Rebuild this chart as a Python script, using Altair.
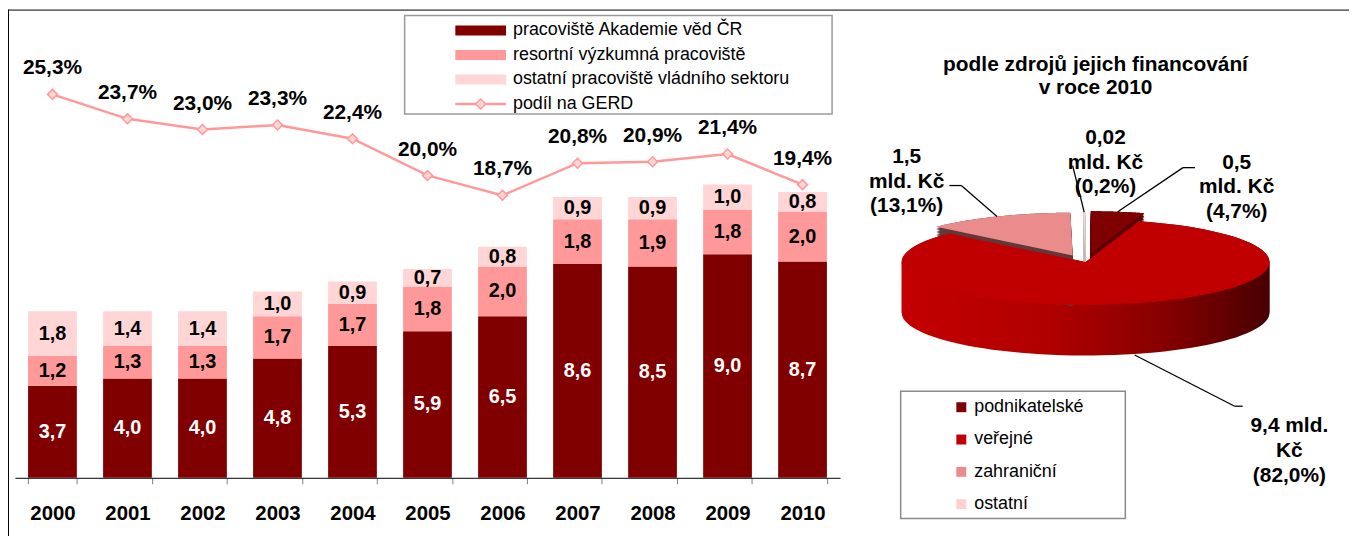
import altair as alt
import pandas as pd

# ---------------- data ----------------
years = ["2000", "2001", "2002", "2003", "2004", "2005", "2006", "2007", "2008", "2009", "2010"]
series_names = ["pracoviště Akademie věd ČR", "resortní výzkumná pracoviště",
                "ostatní pracoviště vládního sektoru"]
avcr = [3.7, 4.0, 4.0, 4.8, 5.3, 5.9, 6.5, 8.6, 8.5, 9.0, 8.7]
resortni = [1.2, 1.3, 1.3, 1.7, 1.7, 1.8, 2.0, 1.8, 1.9, 1.8, 2.0]
ostatni = [1.8, 1.4, 1.4, 1.0, 0.9, 0.7, 0.8, 0.9, 0.9, 1.0, 0.8]
line_name = "podíl na GERD"
gerd_share = [25.3, 23.7, 23.0, 23.3, 22.4, 20.0, 18.7, 20.8, 20.9, 21.4, 19.4]

pie_title_lines = ["podle zdrojů jejich financování", "v roce 2010"]
pie_sources = ["podnikatelské", "veřejné", "zahraniční", "ostatní"]
pie_values = [0.5, 9.4, 1.5, 0.02]
pie_pct = [4.7, 82.0, 13.1, 0.2]

# ---------------- styles / layout ----------------
FONT = "Liberation Sans"
W, H = 1349, 471
bar_colors = ["#800000", "#ff9999", "#ffd5d5"]
line_color = "#ff9999"
marker_fill = "#ffd5d5"
pie_colors = ["#7f0000", "#c00000", "#ea8c8c", "#ffd0d0"]
side_fills = ["#560000", None, "#603a3a", "#bdbdbd"]
pie_explode = [0.19, 0.0, 0.17, 0.17]
pie_lab_x = [1236, 1289, 904, 1104]
pie_lab_y = [154, 419, 148, 129]
pie_elb_x = [1182, 1234, 959, 1071]
pie_elb_y = [159, 399, 177, 157]
pie_stub_x = [1194, 1242, 947, 1071]
pie_stub_y = [159, 399, 177, 157]
CX, CY, RX, RY, DEPTH, N = 1084, 254, 185, 43, 52, 90

# ---------------- tables ----------------
rows = []
for s_i, (name, vals) in enumerate(zip(series_names, [avcr, resortni, ostatni])):
    for y, v in zip(years, vals):
        rows.append({"year": y, "series": name, "v": v, "ord": s_i})
bars_df = pd.DataFrame(rows)
line_df = pd.DataFrame({"year": years, "share": gerd_share})
legend_entries = series_names + [line_name]
leg_df = pd.DataFrame({"entry": legend_entries, "ord": list(range(len(legend_entries)))})
pie_df = pd.DataFrame({
    "src": pie_sources, "val": pie_values, "pct": pie_pct, "ord": list(range(4)),
    "expl": pie_explode, "lab_x": pie_lab_x, "lab_y": pie_lab_y,
    "elb_x": pie_elb_x, "elb_y": pie_elb_y, "stub_x": pie_stub_x, "stub_y": pie_stub_y,
})
one = alt.Data(values=[{}])

# ---------------- bar chart ----------------
x_axis = alt.Axis(title=None, labelAngle=0, labelFont=FONT, labelFontSize=20.5, labelFontWeight="bold",
                  labelColor="black", domainColor="black", domainWidth=1, tickColor="#7f7f7f",
                  tickSize=6, tickWidth=1, tickBand="extent", labelPadding=20, grid=False)
xb = alt.X("year:N", sort=years,
           scale=alt.Scale(type="band", domain=years, range=[7, 837], paddingInner=0.35, paddingOuter=0.175),
           axis=x_axis)
ybar_scale = alt.Scale(domain=[0, H / 25.0], nice=False, zero=False)

bar_base = (alt.Chart(bars_df)
            .transform_stack(stack="v", groupby=["year"], as_=["y0", "y1"],
                             sort=[alt.SortField("ord", order="ascending")])
            .transform_calculate(mid="(datum.y0 + datum.y1) / 2",
                                 lab="replace(format(datum.v, '.1f'), '.', ',')"))
bars = bar_base.mark_bar().encode(
    x=xb,
    y=alt.Y("y0:Q", scale=ybar_scale, axis=None),
    y2="y1:Q",
    color=alt.Color("series:N", scale=alt.Scale(domain=series_names, range=bar_colors), legend=None),
)
bar_text = bar_base.mark_text(font=FONT, fontSize=20, fontWeight="bold", baseline="middle").encode(
    x=xb,
    y=alt.Y("mid:Q", scale=ybar_scale, axis=None),
    text="lab:N",
    color=alt.condition("datum.ord == 0", alt.value("white"), alt.value("black")),
)

yline = alt.Y("share:Q", scale=alt.Scale(domain=[0.24, 30.84], nice=False, zero=False), axis=None)
line_base = alt.Chart(line_df).transform_calculate(
    lab="replace(format(datum.share, '.1f'), '.', ',') + '%'")
gline = line_base.mark_line(color=line_color, strokeWidth=2.5).encode(x=xb, y=yline)
gpts = line_base.mark_point(shape="diamond", filled=True, fill=marker_fill, stroke=line_color,
                            strokeWidth=1.5, size=100, opacity=1).encode(x=xb, y=yline)
gtext = line_base.mark_text(font=FONT, fontSize=21, fontWeight="bold", dy=-26, color="black").encode(
    x=xb, y=yline, text="lab:N")

bar_group = alt.layer(alt.layer(bars, bar_text), alt.layer(gline, gpts, gtext)).resolve_scale(y="independent")

# ---------------- bar legend (manual) ----------------
ly = alt.Y("entry:N", sort=legend_entries,
           scale=alt.Scale(type="point", domain=legend_entries, range=[21, 95], padding=0), axis=None)
leg_box = alt.Chart(one).mark_rect(fill="white", stroke="#9a9a9a", strokeWidth=1.5).encode(
    x=alt.value(399), x2=alt.value(829), y=alt.value(6), y2=alt.value(105))
leg_sw = alt.Chart(leg_df).transform_filter("datum.ord < 3").mark_rule(strokeWidth=10, strokeCap="butt").encode(
    x=alt.value(450), x2=alt.value(501), y=ly,
    color=alt.Color("entry:N", scale=alt.Scale(domain=series_names, range=bar_colors), legend=None))
leg_ln = alt.Chart(leg_df).transform_filter("datum.ord == 3").mark_rule(color=line_color, strokeWidth=2.5).encode(
    x=alt.value(450), x2=alt.value(501), y=ly)
leg_pt = alt.Chart(leg_df).transform_filter("datum.ord == 3").mark_point(
    shape="diamond", filled=True, fill=marker_fill, stroke=line_color, strokeWidth=1.5, size=100, opacity=1).encode(
    x=alt.value(475.5), y=ly)
leg_txt = alt.Chart(leg_df).mark_text(align="left", baseline="middle", font=FONT, fontSize=18, color="black").encode(
    x=alt.value(508), y=ly, text="entry:N")
leg_group = alt.layer(leg_sw, leg_ln, leg_pt, leg_txt)

# ---------------- pie ----------------
def px_enc(f):
    return alt.X(f"{f}:Q", scale=alt.Scale(domain=[0, W], range=[0, W], nice=False, zero=False), axis=None)


def py_enc(f):
    return alt.Y(f"{f}:Q", scale=alt.Scale(domain=[0, H], range=[0, H], nice=False, zero=False), axis=None)


pie_geo = (alt.Chart(pie_df)
           .transform_joinaggregate(tot="sum(pct)")
           .transform_window(cum="sum(pct)", sort=[alt.SortField("ord", order="ascending")], frame=[None, 0])
           .transform_calculate(a0="2*PI*(datum.cum - datum.pct)/datum.tot")
           .transform_calculate(a1="2*PI*datum.cum/datum.tot")
           .transform_calculate(am="(datum.a0 + datum.a1)/2"))

slices = (pie_geo
          .transform_calculate(k=f"sequence(0, {N + 3})")
          .transform_flatten(["k"])
          .transform_calculate(t=f"clamp((datum.k - 1)/{N}, 0, 1)")
          .transform_calculate(a="datum.a0 + datum.t*(datum.a1 - datum.a0)")
          .transform_calculate(c=f"(datum.k == 0 || datum.k == {N + 2}) ? 0 : 1")
          .transform_calculate(px=f"{CX} + {RX}*(datum.expl*sin(datum.am) + datum.c*sin(datum.a))")
          .transform_calculate(py=f"{CY} - {RY}*(datum.expl*cos(datum.am) + datum.c*cos(datum.a))"))

verejne_side = alt.Gradient(
    gradient="linear", x1=0, x2=1, y1=0, y2=0,
    stops=[alt.GradientStop(color="#c40000", offset=0), alt.GradientStop(color="#b00000", offset=0.4),
           alt.GradientStop(color="#850000", offset=0.72), alt.GradientStop(color="#480000", offset=1)])

side_layers = []
for i, src in enumerate(pie_sources):
    fill = verejne_side if side_fills[i] is None else side_fills[i]
    side_layers.append(
        slices.transform_filter(f"datum.ord == {i}")
        .transform_calculate(dz=f"sequence(0, {DEPTH + 0.01}, 1.5)")
        .transform_flatten(["dz"])
        .transform_calculate(pz="datum.py + datum.dz")
        .mark_line(fill=fill, strokeOpacity=0)
        .encode(x=px_enc("px"), y=py_enc("pz"), order=alt.Order("k:Q"), detail="dz:Q"))

tops = slices.mark_line(strokeOpacity=0).encode(
    x=px_enc("px"), y=py_enc("py"), order=alt.Order("k:Q"),
    fill=alt.Fill("src:N", sort=pie_sources, scale=alt.Scale(domain=pie_sources, range=pie_colors),
                  legend=alt.Legend(title=None, orient="none", legendX=950, legendY=391, symbolType="square",
                                    symbolSize=100, symbolStrokeWidth=0, symbolOpacity=1, labelFont=FONT,
                                    labelFontSize=18, labelColor="black", labelOffset=4, rowPadding=14.5,
                                    padding=0)))

leaders = (pie_geo
           .transform_calculate(sx=f"{CX} + {RX}*(1 + datum.expl)*sin(datum.am)")
           .transform_calculate(sy=f"{CY} - {RY}*(1 + datum.expl)*cos(datum.am) + (cos(datum.am) < 0 ? {DEPTH} : 0)"))
lead1 = leaders.mark_rule(color="black", strokeWidth=1.3).encode(
    x=px_enc("sx"), y=py_enc("sy"), x2="elb_x:Q", y2="elb_y:Q")
lead2 = leaders.mark_rule(color="black", strokeWidth=1.3).encode(
    x=px_enc("elb_x"), y=py_enc("elb_y"), x2="stub_x:Q", y2="stub_y:Q")

pie_labels = (pie_geo
              .transform_calculate(vs="replace(format(datum.val, '~g'), '.', ',')",
                                   ps="replace(format(datum.pct, '.1f'), '.', ',') + '%'")
              .transform_calculate(lab="datum.ord == 1 ? datum.vs + ' mld.\\nKč\\n(' + datum.ps + ')' "
                                       ": datum.vs + '\\nmld. Kč\\n(' + datum.ps + ')'")
              .mark_text(font=FONT, fontSize=21, fontWeight="bold", lineBreak="\n", lineHeight=25,
                         align="center", baseline="middle", color="black")
              .encode(x=px_enc("lab_x"), y=py_enc("lab_y"), text="lab:N"))

pie_group = alt.layer(*side_layers, tops, lead1, lead2, pie_labels)

pie_title = alt.Chart(one).mark_text(text=pie_title_lines, font=FONT, fontSize=21, fontWeight="bold",
                                     lineHeight=23.5, align="center", baseline="middle", color="black").encode(
    x=alt.value(1094), y=alt.value(55.5))
pie_leg_box = alt.Chart(one).mark_rect(fill="white", stroke="#8a8a8a", strokeWidth=1.5).encode(
    x=alt.value(898), x2=alt.value(1124), y=alt.value(384), y2=alt.value(512))

# ---------------- frame ----------------
frame_top = alt.Chart(one).mark_rule(color="black", strokeWidth=1).encode(
    x=alt.value(0), x2=alt.value(W), y=alt.value(0.5))
frame_left = alt.Chart(one).mark_rule(color="black", strokeWidth=1).encode(
    x=alt.value(0.5), y=alt.value(0), y2=alt.value(H + 70))

chart = (alt.layer(frame_top, frame_left, bar_group, leg_box, leg_group, pie_leg_box, pie_title, pie_group)
         .resolve_scale(x="independent", y="independent", color="independent", fill="independent")
         .properties(width=W, height=H, padding={"left": 0, "top": 0, "right": 0, "bottom": 65},
                     autosize=alt.AutoSizeParams(type="none"), background="white")
         .configure_view(strokeWidth=0))

chart.save("out.html", embed_options={"renderer": "svg", "actions": False})
